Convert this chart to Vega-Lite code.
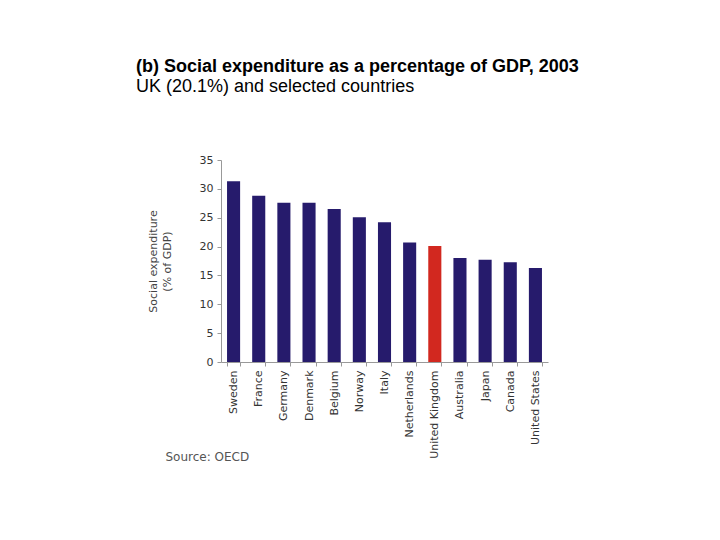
{
  "$schema": "https://vega.github.io/schema/vega-lite/v6.json",
  "width": 327,
  "height": 202,
  "autosize": "none",
  "padding": {"left": 221, "top": 160, "right": 172, "bottom": 178},
  "background": "white",
  "title": {
    "text": "(b) Social expenditure as a percentage of GDP, 2003",
    "subtitle": "UK (20.1%) and selected countries",
    "anchor": "start",
    "frame": "group",
    "dx": -85,
    "offset": 58,
    "font": "Liberation Sans",
    "fontSize": 18,
    "fontWeight": "bold",
    "color": "black",
    "subtitleFont": "Liberation Sans",
    "subtitleFontSize": 18,
    "subtitleColor": "black",
    "subtitlePadding": 2
  },
  "data": {
    "values": [
      {"country": "Sweden", "value": 31.3},
      {"country": "France", "value": 28.8},
      {"country": "Germany", "value": 27.6},
      {"country": "Denmark", "value": 27.6},
      {"country": "Belgium", "value": 26.5},
      {"country": "Norway", "value": 25.1},
      {"country": "Italy", "value": 24.2},
      {"country": "Netherlands", "value": 20.7},
      {"country": "United Kingdom", "value": 20.1},
      {"country": "Australia", "value": 18.0},
      {"country": "Japan", "value": 17.7},
      {"country": "Canada", "value": 17.3},
      {"country": "United States", "value": 16.3}
    ]
  },
  "mark": {"type": "bar"},
  "encoding": {
    "x": {
      "field": "country",
      "type": "nominal",
      "sort": null,
      "scale": {"paddingInner": 0.48, "paddingOuter": 0.24},
      "axis": {
        "labelAngle": -90,
        "tickBand": "extent",
        "title": "Source: OECD",
        "titleAnchor": "start",
        "titleX": -56,
        "titleY": 98,
        "titleAlign": "left",
        "titleBaseline": "alphabetic",
        "titleFontSize": 12,
        "titleColor": "#555555"
      }
    },
    "y": {
      "field": "value",
      "type": "quantitative",
      "scale": {"domain": [0, 35], "nice": false},
      "axis": {
        "values": [0, 5, 10, 15, 20, 25, 30, 35],
        "grid": false,
        "title": ["Social expenditure", "(% of GDP)"],
        "titlePadding": 27,
        "titleLineHeight": 14
      }
    },
    "color": {
      "condition": {"test": "datum.country === 'United Kingdom'", "value": "#d2281f"},
      "value": "#261b6c"
    }
  },
  "config": {
    "view": {"stroke": null},
    "axis": {
      "domainColor": "#999999",
      "tickColor": "#999999",
      "tickSize": 4,
      "labelPadding": 4,
      "labelColor": "#333333",
      "labelFont": "DejaVu Sans",
      "labelFontSize": 11,
      "titleFont": "DejaVu Sans",
      "titleFontSize": 11,
      "titleFontWeight": "normal",
      "titleColor": "#444444"
    }
  }
}
